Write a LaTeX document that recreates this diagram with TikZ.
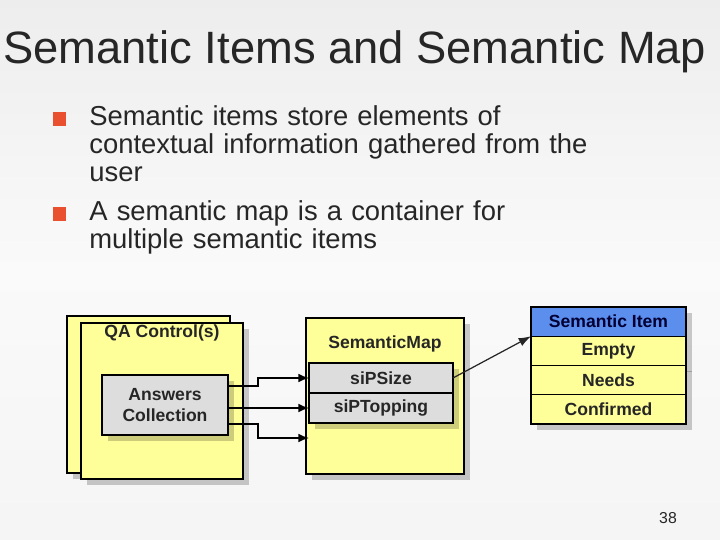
\documentclass[tikz,border=0pt]{standalone}
\usepackage{fontspec}
\setmainfont{Liberation Sans}
\usetikzlibrary{shadows,arrows.meta}

\definecolor{slideyellow}{RGB}{255,255,153}
\definecolor{boxgray}{RGB}{221,221,221}
\definecolor{headblue}{RGB}{92,142,238}
\definecolor{bulletred}{RGB}{232,80,48}
\definecolor{textgray}{RGB}{38,38,38}

\tikzset{
  box/.style={draw, line width=0.6pt, inner sep=0pt, outer sep=0pt,
    font=\fontsize{10}{12}\selectfont\bfseries, text=textgray},
  shd/.style={drop shadow={shadow xshift=0.12cm, shadow yshift=-0.12cm,
    fill=black, opacity=0.2}},
  bul/.style={fill=bulletred, inner sep=0pt, minimum size=0.28cm},
  item/.style={anchor=base west, inner sep=0pt, text width=12cm, align=left,
    font=\fontsize{15.6}{15.9}\selectfont, text=textgray},
  conn/.style={line width=1pt, -{Latex[length=6pt,width=5pt]}},
}

\begin{document}
\begin{tikzpicture}[x=0.02cm, y=-0.02cm]
  % Fundo do slide
  \shade[top color=gray!14, bottom color=gray!8, middle color=gray!4] (0,0) rectangle (720,540);
  \useasboundingbox (0,0) rectangle (720,540);

  % Titulo e texto
  \node[anchor=base west, inner sep=0pt, font=\fontsize{25.8}{30}\selectfont, text=textgray] (title) at (3,64) {Semantic Items and Semantic Map};
  \node[bul] (sq1) at (59.5,119) {};
  \node[item] (t1) at (89,126) {Semantic items store elements of\\contextual information gathered from the\\user};
  \node[bul] (sq2) at (59.5,214) {};
  \node[item] (t2) at (89,221) {A semantic map is a container for\\multiple semantic items};

  % QA Control(s)
  \node[box, shd, fill=slideyellow, minimum width=3.26cm, minimum height=3.14cm] (qaback) at (148.5,394.5) {};
  \node[box, shd, fill=slideyellow, minimum width=3.24cm, minimum height=3.12cm,
    label={[anchor=north, inner sep=1pt, font=\fontsize{10}{12}\selectfont\bfseries, text=textgray]north:QA Control(s)}] (qa) at (162,401) {};
  \node[box, shd, fill=boxgray, minimum width=2.52cm, minimum height=1.2cm, align=center] (ans) at (165,405) {Answers\\Collection};

  % SemanticMap
  \node[box, shd, fill=slideyellow, minimum width=3.16cm, minimum height=3.12cm,
    label={[anchor=north, yshift=-0.24cm, font=\fontsize{10}{12}\selectfont\bfseries, text=textgray]north:SemanticMap}] (smap) at (385,396) {};
  \node[box, shd, fill=boxgray, minimum width=2.88cm, minimum height=0.6cm] (psize) at (381,378) {siPSize};
  \node[box, shd, fill=boxgray, minimum width=2.88cm, minimum height=0.6cm] (ptop) at (381,408) {siPTopping};
  \coordinate (mapin) at ([yshift=-0.6cm]ptop.west);

  % Semantic Item
  \node[box, shd, fill=headblue, text=black!80!blue, minimum width=3.1cm, minimum height=0.585cm] (sihead) at (608.5,321.6) {Semantic Item};
  \node[box, shd, fill=slideyellow, minimum width=3.1cm, minimum height=0.585cm] (siempty) at (608.5,350.9) {Empty};
  \node[box, shd, fill=slideyellow, minimum width=3.1cm, minimum height=0.585cm] (sineeds) at (608.5,380.1) {Needs};
  \node[box, shd, fill=slideyellow, minimum width=3.1cm, minimum height=0.585cm] (siconf) at (608.5,409.4) {Confirmed};

  % Setas
  \draw[conn] ([yshift=0.38cm]ans.east) -- ++(30,0) |- (psize.west);
  \draw[conn] (ans.east |- ptop.west) -- (ptop.west);
  \draw[conn] ([yshift=-0.38cm]ans.east) -- ++(30,0) |- (mapin);
  \draw[line width=0.7pt, draw=textgray, -{Latex[length=7pt,width=5pt]}] (psize.east) -- (sihead.south west);

  % Numero do slide
  \node[font=\fontsize{9}{10}\selectfont, text=textgray] (pnum) at (668,518) {38};
\end{tikzpicture}
\end{document}
